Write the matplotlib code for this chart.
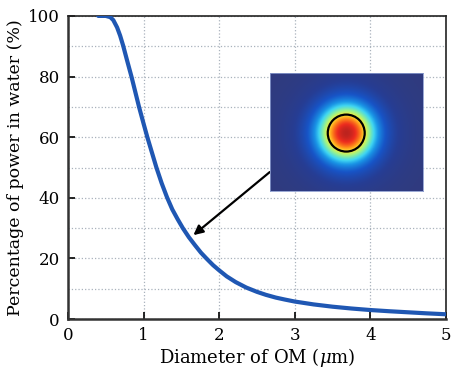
import numpy as np
import matplotlib
matplotlib.use("Agg")
import matplotlib.pyplot as plt
from matplotlib.colors import LinearSegmentedColormap
from matplotlib.patches import Circle

# Curve: diameter of OM (um) vs power in water (%)
diameter = [0.40, 0.50, 0.56, 0.60, 0.65, 0.69, 0.73, 0.78, 0.84, 0.89,
            0.94, 1.00, 1.05, 1.11, 1.17, 1.24, 1.31, 1.38, 1.45, 1.52,
            1.60, 1.68, 1.76, 1.84, 1.92, 2.00, 2.10, 2.22, 2.36, 2.50,
            2.62, 2.75, 2.87, 3.00, 3.25, 3.50, 3.75, 4.00, 4.25, 4.50,
            4.75, 5.00]
power = [100.0, 100.0, 99.6, 98.6, 96.2, 93.5, 90.2, 85.5, 80.0, 75.0,
         70.0, 64.5, 60.0, 55.0, 50.0, 44.8, 40.2, 36.2, 33.0, 30.0,
         27.0, 24.4, 21.9, 19.8, 17.8, 16.1, 14.1, 12.2, 10.4, 9.0,
         8.0, 7.1, 6.45, 5.8, 4.85, 4.1, 3.5, 3.0, 2.6, 2.25,
         1.9, 1.6]

x_ticks = [0, 1, 2, 3, 4, 5]
y_ticks = [0, 20, 40, 60, 80, 100]
y_minor = [10, 30, 50, 70, 90]

# arrow from the inset to the curve
arrow_start = (2.67, 48.5)
arrow_end = (1.66, 27.7)

# mode field in the inset (in inset pixels, core radius)
core_r = 18.5

plt.rcParams['font.family'] = ['DejaVu Serif']
plt.rcParams['mathtext.fontset'] = 'dejavuserif'

fig = plt.figure(figsize=(4.52, 3.79), dpi=100)
ax = fig.add_axes([0.1504, 0.158, 0.836, 0.80])

ax.plot(diameter, power, color='#1f57b3', lw=3, solid_capstyle='round',
        solid_joinstyle='round', zorder=3)

ax.set_xlim(0, 5)
ax.set_ylim(0, 100)
ax.set_xticks(x_ticks)
ax.set_yticks(y_ticks)
ax.set_yticks(y_minor, minor=True)
ax.tick_params(axis='both', which='major', direction='in', length=5, width=1.2,
               labelsize=12, pad=6)
ax.tick_params(axis='y', which='minor', length=0)
ax.grid(True, which='both', axis='y', linestyle=':', color='#a9b2bc', lw=0.9)
ax.grid(True, which='major', axis='x', linestyle=':', color='#a9b2bc', lw=0.9)
for side in ['left', 'bottom']:
    ax.spines[side].set_linewidth(1.8)
    ax.spines[side].set_color('#333333')
for side in ['top', 'right']:
    ax.spines[side].set_linewidth(1.2)
    ax.spines[side].set_color('#222222')

ax.set_xlabel(r'Diameter of OM ($\mu$m)', fontsize=13, labelpad=1)
ax.set_ylabel('Percentage of power in water (%)', fontsize=12.5, labelpad=3)

ax.annotate('', xy=arrow_end, xytext=arrow_start,
            arrowprops=dict(arrowstyle='-|>', color='black', lw=1.6,
                            mutation_scale=14, shrinkA=0, shrinkB=0),
            zorder=4)

# inset: mode field picture
ins = fig.add_axes([0.597, 0.496, 0.338, 0.311])
xs = np.linspace(-76.5, 76.5, 306)
ys = np.linspace(-59, 59, 236)
X, Y = np.meshgrid(xs, ys)
u = np.hypot(X, Y + 1) / core_r
field = np.where(u <= 1, 0.95 - 0.33 * u ** 2, 0.62 * np.exp(-1.1 * (u - 1)))

cmap = LinearSegmentedColormap.from_list('mode', [
    (0.0, (0.19, 0.23, 0.49)),
    (0.08, (0.15, 0.24, 0.58)),
    (0.18, (0.09, 0.33, 0.78)),
    (0.28, (0.10, 0.58, 0.90)),
    (0.36, (0.25, 0.84, 0.95)),
    (0.48, (0.60, 0.95, 0.55)),
    (0.62, (1.00, 0.93, 0.20)),
    (0.75, (1.00, 0.55, 0.10)),
    (0.875, (0.93, 0.17, 0.12)),
    (1.0, (0.62, 0.12, 0.12)),
])
ins.imshow(field, cmap=cmap, vmin=0, vmax=1, origin='lower',
           extent=[-76.5, 76.5, -59, 59], aspect='auto', interpolation='bilinear')
ins.add_patch(Circle((0, -1), core_r, fill=False, ec='black', lw=1.6))
ins.set_xticks([])
ins.set_yticks([])
for s in ins.spines.values():
    s.set_color('#8899cc')
    s.set_linewidth(0.6)

fig.savefig('out.png', dpi=100)
